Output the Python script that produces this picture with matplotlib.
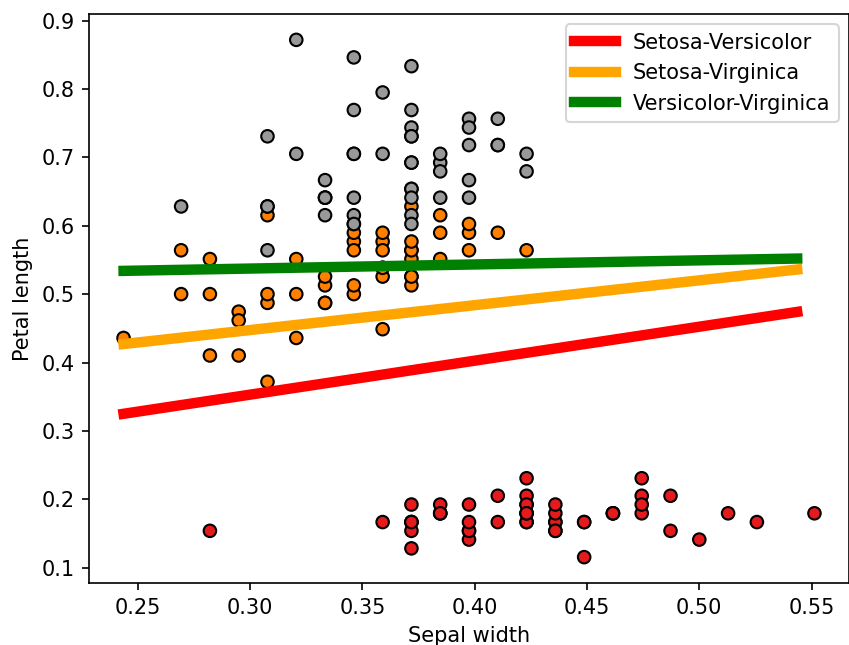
import numpy as np
import matplotlib.pyplot as plt

# iris measurements in cm (sepal width, petal length), one list per class
setosa_sw = [3.5, 3.0, 3.2, 3.1, 3.6, 3.9, 3.4, 3.4, 2.9, 3.1, 3.7, 3.4, 3.0, 3.0, 4.0, 4.4, 3.9,
             3.5, 3.8, 3.8, 3.4, 3.7, 3.6, 3.3, 3.4, 3.0, 3.4, 3.5, 3.4, 3.2, 3.1, 3.4, 4.1, 4.2,
             3.1, 3.2, 3.5, 3.6, 3.0, 3.4, 3.5, 2.3, 3.2, 3.5, 3.8, 3.0, 3.8, 3.2, 3.7, 3.3]
setosa_pl = [1.4, 1.4, 1.3, 1.5, 1.4, 1.7, 1.4, 1.5, 1.4, 1.5, 1.5, 1.6, 1.4, 1.1, 1.2, 1.5, 1.3,
             1.4, 1.7, 1.5, 1.7, 1.5, 1.0, 1.7, 1.9, 1.6, 1.6, 1.5, 1.4, 1.6, 1.6, 1.5, 1.5, 1.4,
             1.5, 1.2, 1.3, 1.4, 1.3, 1.5, 1.3, 1.3, 1.3, 1.6, 1.9, 1.4, 1.6, 1.4, 1.5, 1.4]

versicolor_sw = [3.2, 3.2, 3.1, 2.3, 2.8, 2.8, 3.3, 2.4, 2.9, 2.7, 2.0, 3.0, 2.2, 2.9, 2.9, 3.1, 3.0,
                 2.7, 2.2, 2.5, 3.2, 2.8, 2.5, 2.8, 2.9, 3.0, 2.8, 3.0, 2.9, 2.6, 2.4, 2.4, 2.7, 2.7,
                 3.0, 3.4, 3.1, 2.3, 3.0, 2.5, 2.6, 3.0, 2.6, 2.3, 2.7, 3.0, 2.9, 2.9, 2.5, 2.8]
versicolor_pl = [4.7, 4.5, 4.9, 4.0, 4.6, 4.5, 4.7, 3.3, 4.6, 3.9, 3.5, 4.2, 4.0, 4.7, 3.6, 4.4, 4.5,
                 4.1, 4.5, 3.9, 4.8, 4.0, 4.9, 4.7, 4.3, 4.4, 4.8, 5.0, 4.5, 3.5, 3.8, 3.7, 3.9, 5.1,
                 4.5, 4.5, 4.7, 4.4, 4.1, 4.0, 4.4, 4.6, 4.0, 3.3, 4.2, 4.2, 4.2, 4.3, 3.0, 4.1]

# the wide-sepal virginica ones (3.6, 3.8) don't show up in the plot, left out
virginica_sw = [3.3, 2.7, 3.0, 2.9, 3.0, 3.0, 2.5, 2.9, 2.5, 3.2, 2.7, 3.0, 2.5, 2.8, 3.2, 3.0,
                2.6, 2.2, 3.2, 2.8, 2.8, 2.7, 3.3, 3.2, 2.8, 3.0, 2.8, 3.0, 2.8, 2.8, 2.6, 3.0,
                3.4, 3.1, 3.0, 3.1, 3.1, 3.1, 2.7, 3.2, 3.3, 3.0, 2.5, 3.0, 3.4, 3.0]
virginica_pl = [6.0, 5.1, 5.9, 5.6, 5.8, 6.6, 4.5, 6.3, 5.8, 5.1, 5.3, 5.5, 5.0, 5.1, 5.3, 5.5,
                6.9, 5.0, 5.7, 4.9, 6.7, 4.9, 5.7, 6.0, 4.8, 4.9, 5.6, 5.8, 6.1, 5.6, 5.6, 6.1,
                5.6, 5.5, 4.8, 5.4, 5.6, 5.1, 5.1, 5.9, 5.7, 5.2, 5.0, 5.2, 5.4, 5.1]

# separating lines (already in normalised units)
line_x = [0.2436, 0.5436]
line_y = {
    'Setosa-Versicolor': [0.325, 0.474],
    'Setosa-Virginica': [0.427, 0.536],
    'Versicolor-Virginica': [0.534, 0.552],
}
line_colors = ['red', 'orange', 'green']

# global min-max scaling over the whole data set (min 0.1, max 7.9)
DATA_MIN = 0.1
DATA_MAX = 7.9

def scale(v):
    return (np.array(v) - DATA_MIN) / (DATA_MAX - DATA_MIN)

X = np.concatenate([scale(setosa_sw), scale(versicolor_sw), scale(virginica_sw)])
Y = np.concatenate([scale(setosa_pl), scale(versicolor_pl), scale(virginica_pl)])
target = np.array([0] * len(setosa_sw) + [1] * len(versicolor_sw) + [2] * len(virginica_sw))

fig = plt.figure(figsize=(849 / 150, 645 / 150), dpi=150)
ax = fig.add_axes([89 / 849, 62 / 645, 760 / 849, 569 / 645])

ax.scatter(X, Y, c=target, cmap=plt.cm.Set1, edgecolor='k')
for (name, ys), col in zip(line_y.items(), line_colors):
    ax.plot(line_x, ys, color=col, linewidth=5, label=name)

ax.set_xlabel('Sepal width')
ax.set_ylabel('Petal length')
ax.legend(loc='upper right')

fig.savefig('out.png', dpi=150)
